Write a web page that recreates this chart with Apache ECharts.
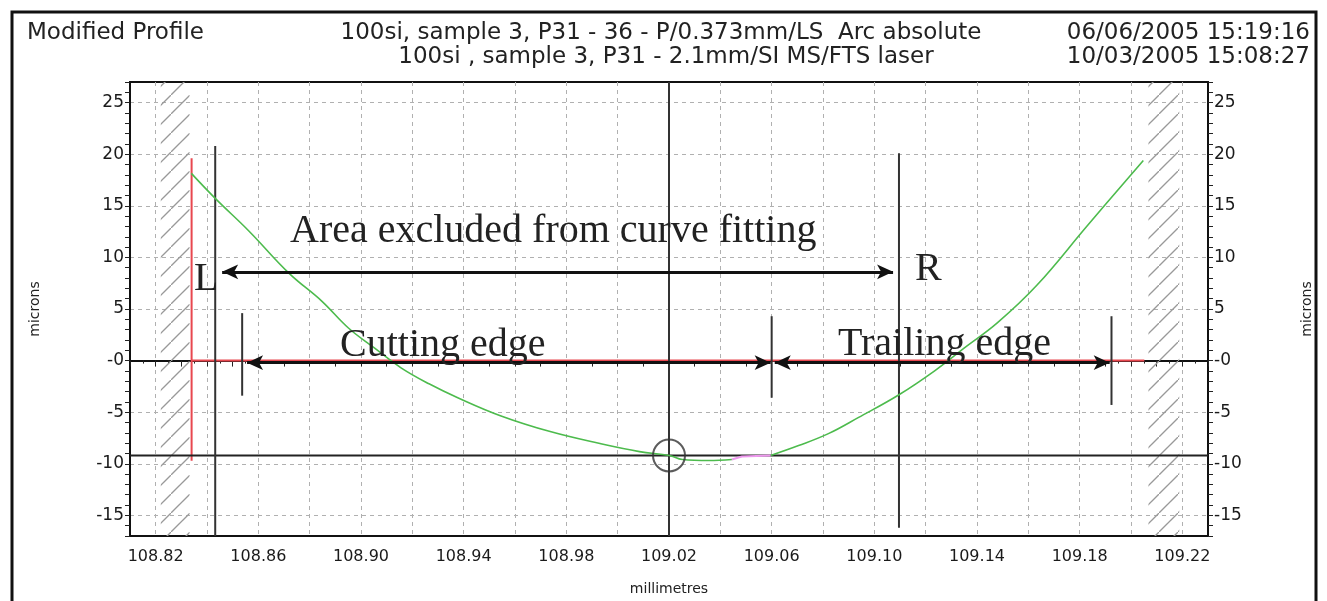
<!DOCTYPE html>
<html>
<head>
<meta charset="utf-8">
<title>Modified Profile</title>
<script src="https://cdn.jsdelivr.net/npm/echarts@6/dist/echarts.min.js"></script>
<style>
html, body { margin: 0; padding: 0; background: #fff; }
#chart { width: 1327px; height: 601px; }
</style>
</head>
<body>
<div id="chart"></div>
<script>
// measured profile, millimetres / microns (null = where the pink gap sits)
var profileX = [108.8339, 108.8432, 108.8564, 108.8719, 108.8847, 108.8951, 108.9052, 108.9156,
                108.9265, 108.9377, 108.9543, 108.9737, 108.9931, 109.0085, 109.0202, 109.0252,
                109.0356, 109.0445, null,
                109.0596, 109.0705, 109.0821, 109.0937, 109.1096, 109.1235, 109.1351, 109.1479,
                109.1634, 109.1828, 109.2048];
var profileY = [18.14, 15.72, 12.54, 8.48, 5.77, 3.16, 1.23, -0.70,
                -2.25, -3.60, -5.34, -6.88, -8.04, -8.82, -9.20, -9.59,
                -9.69, -9.59, null,
                -9.20, -8.24, -7.08, -5.53, -3.31, -0.99, 1.23, 3.65,
                7.32, 13.02, 19.40];
var gapX = [109.0445, 109.0484, 109.0596];
var gapY = [-9.59, -9.30, -9.20];

// red reference lines
var redVX = [108.834, 108.834];
var redVY = [19.6, -9.7];
var redHX = [108.834, 109.2052];
var redHY = [0, 0];

// black construction lines
var lineLX = [108.8432, 108.8432];
var lineLY = [20.8, -17];
var lineRX = [109.1096, 109.1096];
var lineRY = [20.1, -16.2];
var centreX = [109.02, 109.02];
var centreY = [27, -17];
var baseX = [108.81, 109.23];
var baseY = [-9.2, -9.2];
var edgeTickX = [108.8537, 109.06, 109.1924];
var edgeTickTop = [4.6, 4.3, 4.3];
var edgeTickBottom = [-3.4, -3.6, -4.3];
var centreMark = [109.02, -9.2];

// arrows
var excludedArrowX = [108.8459, 109.1073];
var excludedArrowY = 8.6;
var cuttingArrowX = [108.8556, 109.0596];
var trailingArrowX = [109.0612, 109.1917];
var edgeArrowY = -0.2;

// hatched (out of range) strips
var hatchLeft = [108.8220, 108.8332];
var hatchRight = [109.2068, 109.2188];

// ticks
var xTickLabels = ['108.82', '108.86', '108.90', '108.94', '108.98', '109.02',
                   '109.06', '109.10', '109.14', '109.18', '109.22'];
var yTickValues = [-15, -10, -5, 0, 5, 10, 15, 20, 25];
var yTickLabels = ['-15', '-10', '-5', '-0', '5', '10', '15', '20', '25'];

var SANS = 'DejaVu Sans';
var SERIF = 'Liberation Serif';

function zip(xs, ys) {
    return xs.map(function (x, i) { return x === null ? null : [x, ys[i]]; });
}

function seg(xs, ys, color, width, z) {
    return {
        type: 'line', data: zip(xs, ys), symbol: 'none', silent: true, z: z,
        lineStyle: { color: color, width: width }
    };
}

function hatchPattern() {
    var c = document.createElement('canvas');
    c.width = 19; c.height = 19;
    var g = c.getContext('2d');
    g.strokeStyle = '#999';
    g.lineWidth = 1.3;
    g.beginPath();
    g.moveTo(-2, 21); g.lineTo(21, -2);
    g.stroke();
    return c;
}

function xLabel(v) {
    var s = v.toFixed(2);
    return xTickLabels.indexOf(s) >= 0 ? s : '';
}

function yLabel(v) {
    var r = Math.round(v);
    if (Math.abs(v - r) > 1e-6) return '';
    var i = yTickValues.indexOf(r);
    return i >= 0 ? yTickLabels[i] : '';
}

function yAxisDef(pos) {
    return {
        type: 'value', position: pos, min: -17, max: 27, interval: 1,
        name: 'microns', nameLocation: 'middle', nameRotate: 90,
        nameGap: pos === 'left' ? 88 : 92,
        nameTextStyle: { fontFamily: SANS, fontSize: 14, color: '#222' },
        axisLine: { show: true, lineStyle: { color: '#111', width: 2 } },
        axisTick: { show: true, length: 5, lineStyle: { color: '#222' } },
        axisLabel: { formatter: yLabel, fontFamily: SANS, fontSize: 17, color: '#1a1a1a', margin: 6 },
        splitLine: {
            show: pos === 'left',
            lineStyle: { color: ['transparent', 'transparent', '#b0b0b0', 'transparent', 'transparent'], type: [4, 4] }
        }
    };
}

var chart = echarts.init(document.getElementById('chart'));

var option = {
    animation: false,
    backgroundColor: '#fff',
    grid: { left: 130, right: 119, top: 82, bottom: 60, show: true, borderColor: '#111', borderWidth: 2 },
    xAxis: {
        type: 'value', min: 108.81, max: 109.23, interval: 0.01,
        name: 'millimetres', nameLocation: 'middle', nameGap: 46,
        nameTextStyle: { fontFamily: SANS, fontSize: 14, color: '#222' },
        axisLine: { show: true, lineStyle: { color: '#111', width: 2 } },
        axisTick: { show: true, length: 6, lineStyle: { color: '#222' } },
        minorTick: { show: true, splitNumber: 2, length: 3, lineStyle: { color: '#222' } },
        axisLabel: { formatter: xLabel, fontFamily: SANS, fontSize: 16, color: '#1a1a1a', margin: 13 },
        splitLine: { show: true, lineStyle: { color: ['transparent', '#b0b0b0'], type: [4, 4] } }
    },
    yAxis: [yAxisDef('left'), yAxisDef('right')],
    series: [
        {
            type: 'line', data: zip(baseX, baseY), symbol: 'none', silent: true, z: 3,
            lineStyle: { color: '#222', width: 2 },
            markArea: {
                silent: true,
                itemStyle: { color: { image: hatchPattern(), repeat: 'repeat' } },
                data: [
                    [{ xAxis: hatchLeft[0] }, { xAxis: hatchLeft[1] }],
                    [{ xAxis: hatchRight[0] }, { xAxis: hatchRight[1] }]
                ]
            },
            markLine: {
                silent: true, symbol: ['arrow', 'arrow'], symbolSize: [11, 16],
                label: { show: false },
                lineStyle: { color: '#111', width: 3, type: 'solid' },
                data: [
                    [{ coord: [excludedArrowX[0], excludedArrowY] }, { coord: [excludedArrowX[1], excludedArrowY] }],
                    [{ coord: [cuttingArrowX[0], edgeArrowY] }, { coord: [cuttingArrowX[1], edgeArrowY] }],
                    [{ coord: [trailingArrowX[0], edgeArrowY] }, { coord: [trailingArrowX[1], edgeArrowY] }]
                ]
            }
        },
        seg(redVX, redVY, '#e8474f', 2, 2),
        seg(redHX, redHY, '#e8474f', 2, 2),
        seg(lineLX, lineLY, '#333', 2, 3),
        seg(lineRX, lineRY, '#333', 2, 3),
        seg(centreX, centreY, '#333', 2, 3),
        seg([edgeTickX[0], edgeTickX[0]], [edgeTickTop[0], edgeTickBottom[0]], '#333', 2, 3),
        seg([edgeTickX[1], edgeTickX[1]], [edgeTickTop[1], edgeTickBottom[1]], '#333', 2, 3),
        seg([edgeTickX[2], edgeTickX[2]], [edgeTickTop[2], edgeTickBottom[2]], '#333', 2, 3),
        {
            type: 'line', data: zip(profileX, profileY), symbol: 'none', silent: true, z: 4,
            smooth: 0.4, connectNulls: false,
            lineStyle: { color: '#4dbb4d', width: 1.6 }
        },
        seg(gapX, gapY, '#ee99ee', 2, 5),
        {
            type: 'scatter', data: [centreMark], symbol: 'circle', symbolSize: 32, silent: true, z: 5,
            itemStyle: { color: 'rgba(0,0,0,0)', borderColor: '#333', borderWidth: 2 }
        }
    ],
    graphic: [
        { type: 'rect', silent: true, shape: { x: 12, y: 12, width: 1304, height: 620 },
          style: { fill: 'none', stroke: '#111', lineWidth: 3 } },
        { type: 'text', x: 27, y: 33, silent: true,
          style: { text: 'Modified Profile', font: '23px "' + SANS + '"', fill: '#222', verticalAlign: 'middle' } },
        { type: 'text', x: 661, y: 33, silent: true,
          style: { text: '100si, sample 3, P31 - 36 - P/0.373mm/LS  Arc absolute', font: '23px "' + SANS + '"',
                   fill: '#222', align: 'center', verticalAlign: 'middle' } },
        { type: 'text', x: 666, y: 57, silent: true,
          style: { text: '100si , sample 3, P31 - 2.1mm/SI MS/FTS laser', font: '23px "' + SANS + '"',
                   fill: '#222', align: 'center', verticalAlign: 'middle' } },
        { type: 'text', x: 1310, y: 33, silent: true,
          style: { text: '06/06/2005 15:19:16', font: '23px "' + SANS + '"', fill: '#222', align: 'right', verticalAlign: 'middle' } },
        { type: 'text', x: 1310, y: 57, silent: true,
          style: { text: '10/03/2005 15:08:27', font: '23px "' + SANS + '"', fill: '#222', align: 'right', verticalAlign: 'middle' } },
        { type: 'text', x: 290, y: 231, silent: true, z: 10,
          style: { text: 'Area excluded from curve fitting', font: '40px "' + SERIF + '"', fill: '#222', verticalAlign: 'middle' } },
        { type: 'text', x: 340, y: 345, silent: true, z: 10,
          style: { text: 'Cutting edge', font: '40px "' + SERIF + '"', fill: '#222', verticalAlign: 'middle' } },
        { type: 'text', x: 838, y: 344, silent: true, z: 10,
          style: { text: 'Trailing edge', font: '40px "' + SERIF + '"', fill: '#222', verticalAlign: 'middle' } },
        { type: 'text', x: 915, y: 269, silent: true, z: 10,
          style: { text: 'R', font: '40px "' + SERIF + '"', fill: '#222', verticalAlign: 'middle' } },
        { type: 'text', x: 194, y: 279, silent: true, z: 10,
          style: { text: 'L', font: '40px "' + SERIF + '"', fill: '#222', verticalAlign: 'middle' } }
    ]
};

chart.setOption(option);
</script>
</body>
</html>
